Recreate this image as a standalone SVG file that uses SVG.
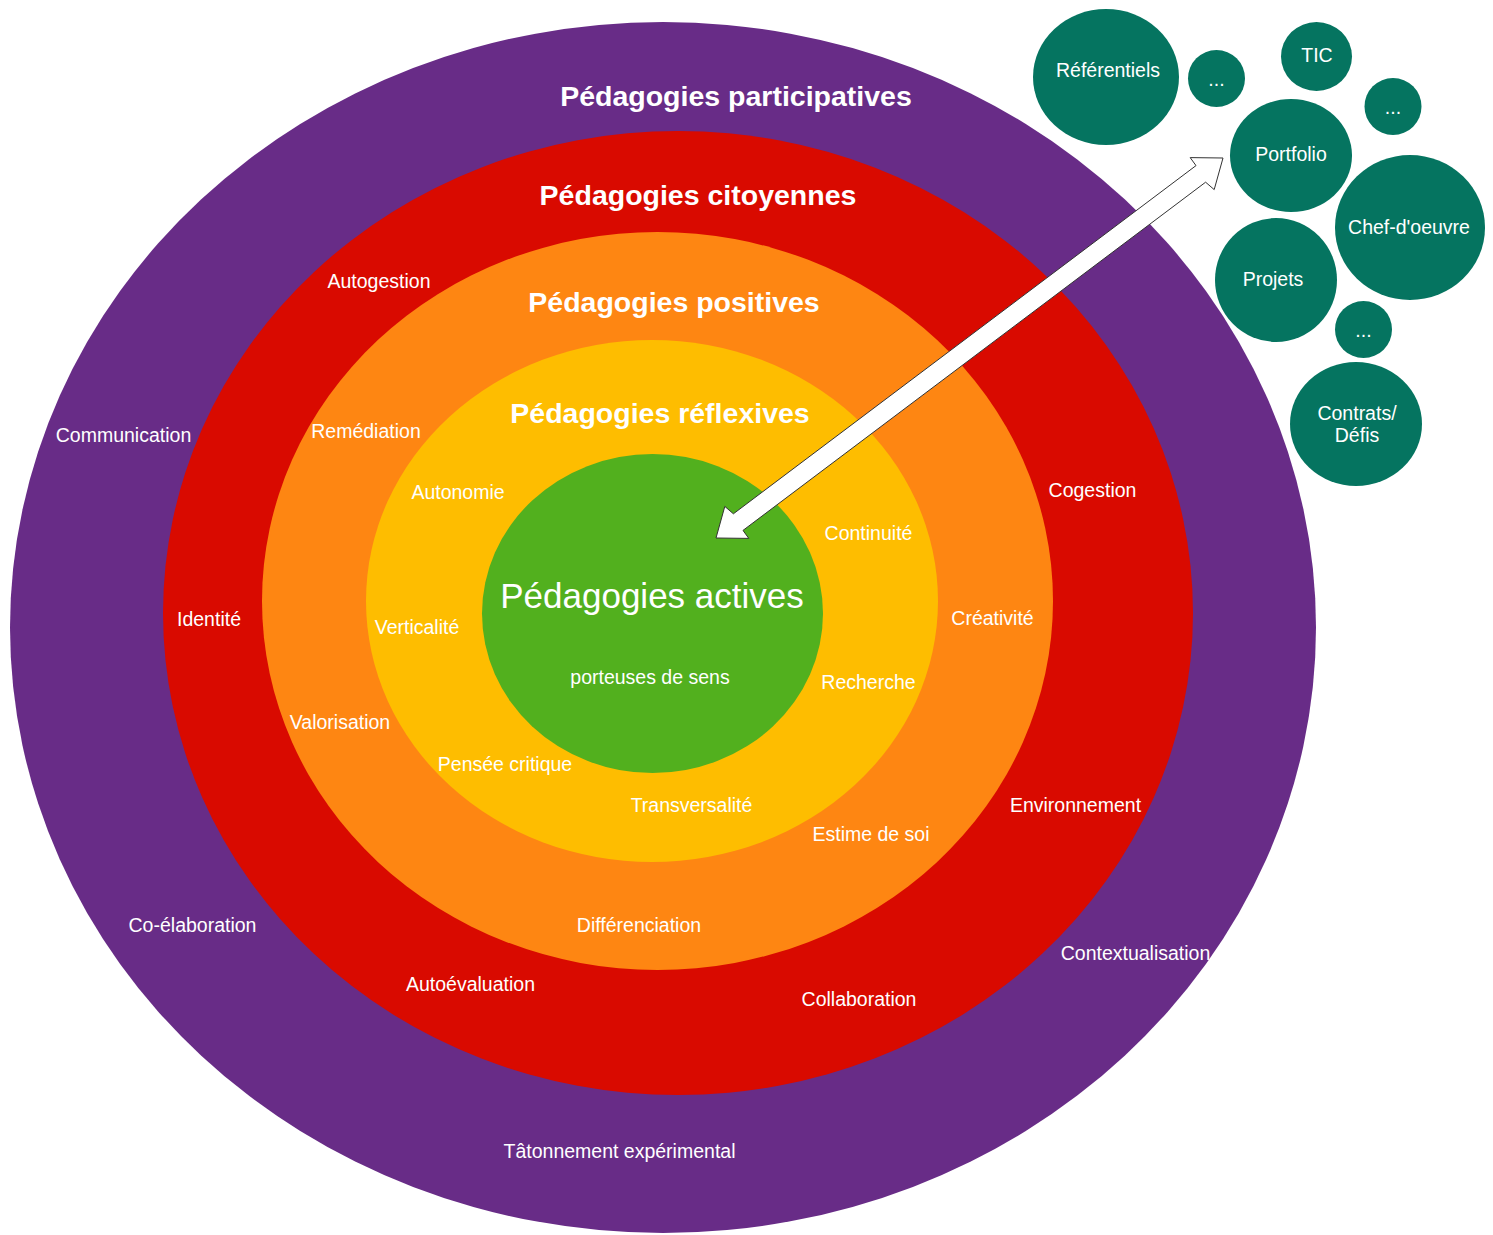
<svg xmlns="http://www.w3.org/2000/svg" width="1493" height="1235" viewBox="0 0 1493 1235">
<style>
text{font-family:"Liberation Sans",Arial,sans-serif;fill:#ffffff;text-anchor:middle}
.t{font-size:28.5px;font-weight:bold}
.l{font-size:19.5px}
.c{fill:#057460}
</style>
<rect x="0" y="0" width="1493" height="1235" fill="#ffffff"/>
<g id="participatives">
<ellipse cx="663" cy="627.5" rx="653" ry="605.5" fill="#682C87"/>
<text class="t" x="736" y="106">Pédagogies participatives</text>
<text class="l" x="123.5" y="442">Communication</text>
<text class="l" x="192.5" y="932">Co-élaboration</text>
<text class="l" x="619.5" y="1158">Tâtonnement expérimental</text>
<text class="l" x="1135.5" y="960">Contextualisation</text>
</g>
<g id="citoyennes">
<ellipse cx="678" cy="613" rx="515" ry="482" fill="#D90A00"/>
<text class="t" x="698" y="205">Pédagogies citoyennes</text>
<text class="l" x="379" y="288">Autogestion</text>
<text class="l" x="209" y="626">Identité</text>
<text class="l" x="470.5" y="991">Autoévaluation</text>
<text class="l" x="859" y="1006">Collaboration</text>
<text class="l" x="1075.5" y="812">Environnement</text>
<text class="l" x="1092.5" y="497">Cogestion</text>
</g>
<g id="positives">
<ellipse cx="657.5" cy="601" rx="395.5" ry="369" fill="#FE8612"/>
<text class="t" x="674" y="312">Pédagogies positives</text>
<text class="l" x="366" y="438">Remédiation</text>
<text class="l" x="340" y="729">Valorisation</text>
<text class="l" x="639" y="932">Différenciation</text>
<text class="l" x="871" y="841">Estime de soi</text>
<text class="l" x="992.5" y="625">Créativité</text>
</g>
<g id="reflexives">
<ellipse cx="652" cy="601" rx="286" ry="261" fill="#FEBD00"/>
<text class="t" x="660" y="423">Pédagogies réflexives</text>
<text class="l" x="458" y="499">Autonomie</text>
<text class="l" x="417" y="634">Verticalité</text>
<text class="l" x="505" y="771">Pensée critique</text>
<text class="l" x="691.5" y="812">Transversalité</text>
<text class="l" x="868.5" y="689">Recherche</text>
<text class="l" x="868.5" y="540">Continuité</text>
</g>
<g id="actives">
<ellipse cx="652.5" cy="613.5" rx="170.5" ry="159.5" fill="#52B01E"/>
<text x="652" y="608" style="font-size:35px">Pédagogies actives</text>
<text class="l" x="650" y="684">porteuses de sens</text>
</g>
<g id="referentiels"><ellipse class="c" cx="1106" cy="77" rx="73" ry="68"/><text class="l" x="1108" y="77">Référentiels</text></g>
<g id="etc1"><circle class="c" cx="1216.5" cy="78.5" r="28.5"/><text class="l" x="1216.5" y="86">...</text></g>
<g id="tic"><ellipse class="c" cx="1316.5" cy="56.5" rx="35.5" ry="34.5"/><text class="l" x="1317" y="62">TIC</text></g>
<g id="etc2"><circle class="c" cx="1393" cy="106.5" r="28.5"/><text class="l" x="1393" y="114">...</text></g>
<g id="portfolio"><ellipse class="c" cx="1291" cy="155.5" rx="61" ry="56.5"/><text class="l" x="1291" y="161">Portfolio</text></g>
<g id="chef-doeuvre"><ellipse class="c" cx="1410" cy="227.5" rx="75" ry="72.5"/><text class="l" x="1409" y="234">Chef-d'oeuvre</text></g>
<g id="projets"><ellipse class="c" cx="1276" cy="280" rx="61" ry="62"/><text class="l" x="1273" y="286">Projets</text></g>
<g id="etc3"><circle class="c" cx="1363.5" cy="329.5" r="28.5"/><text class="l" x="1363.5" y="337">...</text></g>
<g id="contrats"><ellipse class="c" cx="1356" cy="424" rx="66" ry="62"/><text class="l" x="1357" y="420">Contrats/</text><text class="l" x="1357" y="442">Défis</text></g>
<g id="connectors">
<polygon points="716,538 748.8,538.4 743,530.4 1205.6,182.2 1214.2,189.6 1223,158 1190.2,157.6 1196,165.6 733.4,513.8 724.8,506.4" fill="#ffffff" stroke="#333333" stroke-width="1" stroke-linejoin="miter"/>
</g>
</svg>
